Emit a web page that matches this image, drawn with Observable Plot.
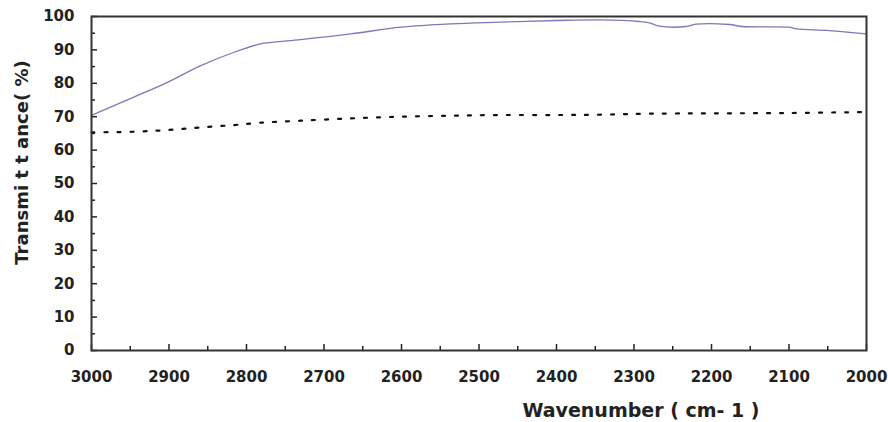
<!DOCTYPE html>
<html>
<head>
<meta charset="utf-8">
<script src="https://cdn.jsdelivr.net/npm/d3@7"></script>
<script src="https://cdn.jsdelivr.net/npm/@observablehq/plot@0.6"></script>
<style>
  html, body { margin: 0; padding: 0; background: #fff; }
</style>
</head>
<body>
<div id="chart"></div>
<script>
// Solid (upper) spectrum
const wnSolid = [3000, 2946, 2902, 2859, 2816, 2782, 2765, 2730, 2665, 2601, 2536, 2472, 2400, 2342, 2293, 2280, 2267, 2233, 2220, 2177, 2160, 2100, 2090, 2048, 2000];
const tSolid  = [70.4, 75.8, 80.3, 85.3, 89.3, 91.8, 92.3, 93.1, 94.8, 96.8, 97.8, 98.3, 98.8, 99.0, 98.5, 98.1, 97.1, 97.0, 97.7, 97.6, 97.0, 96.8, 96.3, 95.8, 94.8];
// Dotted (lower) spectrum
const wnDotted = [3000, 2946, 2902, 2859, 2816, 2782, 2730, 2665, 2601, 2536, 2472, 2400, 2342, 2280, 2200, 2100, 2000];
const tDotted  = [65.3, 65.5, 66.0, 66.8, 67.5, 68.2, 68.8, 69.5, 70.0, 70.3, 70.5, 70.5, 70.6, 70.9, 71.0, 71.1, 71.4];

const xTicks = [3000, 2900, 2800, 2700, 2600, 2500, 2400, 2300, 2200, 2100, 2000];
const xMinor = [2950, 2850, 2750, 2650, 2550, 2450, 2350, 2250, 2150, 2050];
const yTicks = [0, 10, 20, 30, 40, 50, 60, 70, 80, 90, 100];
const yMinor = [5, 15, 25, 35, 45, 55, 65, 75, 85, 95];

const xLabel = "Wavenumber ( cm- 1 )";
const yLabel = "Transmi t t ance( %)";

const solid = wnSolid.map((w, i) => ({w, t: tSolid[i]}));
const dotted = wnDotted.map((w, i) => ({w, t: tDotted[i]}));

const chart = Plot.plot({
  width: 888,
  height: 422,
  marginLeft: 91,
  marginRight: 22,
  marginTop: 16,
  marginBottom: 72,
  x: {domain: [3000, 2000]},
  y: {domain: [0, 100]},
  style: {fontFamily: "DejaVu Sans", fontWeight: "bold", fontSize: "15px", color: "#222", background: "#fff"},
  marks: [
    Plot.axisX({ticks: xMinor, tickSize: -4, tickFormat: () => "", label: null, strokeWidth: 1.5}),
    Plot.axisX({ticks: xTicks, tickSize: -6, tickFormat: () => "", label: null, strokeWidth: 1.5}),
    Plot.axisX({ticks: xTicks, tickSize: 0, tickPadding: 21, tickFormat: d => String(d), label: null}),
    Plot.axisY({ticks: yMinor, tickSize: -4, tickFormat: () => "", label: null, strokeWidth: 1.5}),
    Plot.axisY({ticks: yTicks, tickSize: -6, tickFormat: () => "", label: null, strokeWidth: 1.5}),
    Plot.axisY({ticks: yTicks, tickSize: 0, tickPadding: 17, tickFormat: d => String(d), label: null}),
    Plot.line(solid, {x: "w", y: "t", stroke: "#7a7ab8", strokeWidth: 1.3, curve: "catmull-rom"}),
    Plot.line(dotted, {x: "w", y: "t", stroke: "#111", strokeWidth: 2.2, strokeDasharray: "3,10", curve: "catmull-rom"}),
    Plot.frame({stroke: "#333", strokeWidth: 2}),
    Plot.text([yLabel], {text: d => d, frameAnchor: "left", textAnchor: "middle", lineAnchor: "middle", dx: -69, dy: -21, rotate: -90, fontSize: 18, fontWeight: "bold", fill: "#222"}),
    Plot.text([xLabel], {text: d => d, frameAnchor: "bottom", textAnchor: "middle", lineAnchor: "middle", dx: 162, dy: 60, fontSize: 19, fontWeight: "bold", fill: "#222"})
  ]
});
document.getElementById("chart").append(chart);
</script>
</body>
</html>
